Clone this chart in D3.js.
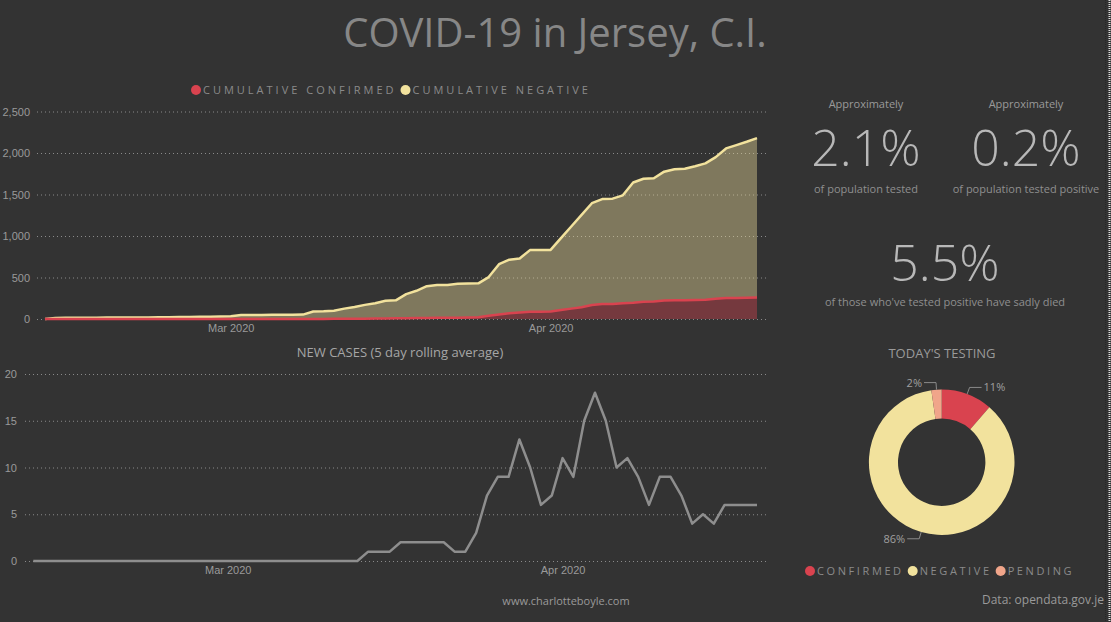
<!DOCTYPE html>
<html>
<head>
<meta charset="utf-8">
<script src="https://cdn.jsdelivr.net/npm/d3@7/dist/d3.min.js"></script>
<style>
  html, body { margin: 0; padding: 0; background: #333333; }
  svg { display: block; font-family: "Segoe UI", "Open Sans", sans-serif; }
  .grid line { stroke: #8a8a8a; stroke-dasharray: 1 3; stroke-width: 1; }
  .grid .domain { display: none; }
  .grid text { fill: #9a9a9a; font-size: 11px; }
  .xaxis .domain, .xaxis line { display: none; }
  .xaxis text { fill: #9a9a9a; font-size: 11px; }
</style>
</head>
<body>
<div id="chart"></div>
<script>
// ---- data ----
var startDate = new Date(2020, 1, 12);
var cumEnd = new Date(2020, 3, 21);
var rollEnd = new Date(2020, 3, 19);

var cumDates = d3.timeDay.range(startDate, d3.timeDay.offset(cumEnd, 1));
var rollDates = d3.timeDay.range(startDate, d3.timeDay.offset(rollEnd, 1));

var cumulativeConfirmed = [0,0,0,0,0,0,0,0,0,0, 0,0,0,0,0,0,0,0,0,0,
  0,0,0,0,0,0,0,1,2,2, 3,4,5,6,8,10,11,13,15,15,
  15,17,20,40,55,68,78,88,88,90, 108,125,141,168,180,182,189,197,208,210,
  222,225,226,229,233,244,252,254,256,258];

var cumulativeNegative = [0,12,15,15,16,16,17,17,18,18, 19,20,22,24,25,26,28,30,33,48,
  48,49,50,50,52,53,90,91,98,123, 142,166,185,214,217,290,329,382,395,395,
  410,410,410,465,605,647,652,742,742,742, 867,990,1114,1227,1265,1268,1301,1448,1482,1485,
  1553,1580,1584,1611,1642,1706,1803,1841,1879,1922];

var newCasesAvg = [0,0,0,0,0,0,0,0,0,0, 0,0,0,0,0,0,0,0,0,0,
  0,0,0,0,0,0,0,0,0,0, 0,1,1,1,2,2,2,2,2,1,
  1,3,7,9,9,13,10,6,7,11, 9,15,18,15,10,11,9,6,9,9,
  7,4,5,4,6,6,6,6];

var cumTicks = [0, 500, 1000, 1500, 2000, 2500];
var newTicks = [0, 5, 10, 15, 20];
var monthTicks = [new Date(2020, 2, 1), new Date(2020, 3, 1)];

var testingLabels = ["CONFIRMED", "NEGATIVE", "PENDING"];
var testingToday = [5, 38, 1];

var statLabels = ["Approximately", "Approximately"];
var statValues = ["2.1%", "0.2%"];
var statNotes = ["of population tested", "of population tested positive"];

// ---- colours ----
var RED = "#d9434f", YELLOW = "#f2e29d", SALMON = "#f0a58a", GREY_LINE = "#8e8e8e";

var W = 1111, H = 622;
var svg = d3.select("#chart").append("svg").attr("width", W).attr("height", H);
svg.append("rect").attr("width", W).attr("height", H).attr("fill", "#333333");

// right edge border
svg.append("line").attr("x1", 1105.5).attr("x2", 1105.5).attr("y1", 0).attr("y2", H)
  .attr("stroke", "#262626").attr("stroke-width", 1).attr("stroke-dasharray", "1 1");
svg.append("line").attr("x1", 1109.5).attr("x2", 1109.5).attr("y1", 0).attr("y2", H)
  .attr("stroke", "#dddddd").attr("stroke-width", 2).attr("stroke-dasharray", "1 1");

// title
svg.append("text").attr("x", 555).attr("y", 47).attr("text-anchor", "middle")
  .attr("fill", "#878787").attr("font-size", 40).attr("font-weight", 400)
  .text("COVID-19 in Jersey, C.I.");

// legend helper
function legend(g, x, y, items, colors, size, spacing) {
  var cx = x;
  items.forEach(function (label, i) {
    g.append("circle").attr("cx", cx).attr("cy", y).attr("r", 5).attr("fill", colors[i]);
    var t = g.append("text").attr("x", cx + 7).attr("y", y + 4)
      .attr("fill", "#8a8a8a").attr("font-size", size).attr("letter-spacing", spacing + "px")
      .text(label);
    cx = cx + 7 + t.node().getComputedTextLength() + 9;
  });
}

// ---- cumulative stacked area ----
var x1 = d3.scaleTime().domain([startDate, cumEnd]).range([45, 757]);
var y1 = d3.scaleLinear().domain([0, 2500]).range([319, 111.5]);

var gTop = svg.append("g");
gTop.append("g").attr("class", "grid").attr("transform", "translate(37,0)")
  .call(d3.axisLeft(y1).tickValues(cumTicks).tickFormat(d3.format(",")).tickSize(-731).tickPadding(7));

var rows = cumDates.map(function (d, i) {
  return { date: d, confirmed: cumulativeConfirmed[i], negative: cumulativeNegative[i] };
});
var stack = d3.stack().keys(["confirmed", "negative"])(rows);
var area = d3.area().x(function (d) { return x1(d.data.date); })
  .y0(function (d) { return y1(d[0]); }).y1(function (d) { return y1(d[1]); });
var topLine = d3.line().x(function (d) { return x1(d.data.date); }).y(function (d) { return y1(d[1]); });
var fills = [RED, YELLOW];

stack.forEach(function (s, i) {
  gTop.append("path").datum(s).attr("d", area).attr("fill", fills[i]).attr("fill-opacity", 0.4);
});
stack.slice().reverse().forEach(function (s, j) {
  var i = stack.length - 1 - j;
  gTop.append("path").datum(s).attr("d", topLine).attr("fill", "none")
    .attr("stroke", fills[i]).attr("stroke-width", 2.5).attr("stroke-linejoin", "round");
});

gTop.append("g").attr("class", "xaxis").attr("transform", "translate(0,320)")
  .call(d3.axisBottom(x1).tickValues(monthTicks).tickFormat(d3.timeFormat("%b %Y")).tickSize(0).tickPadding(4));

legend(svg.append("g"), 196, 90, ["CUMULATIVE CONFIRMED", "CUMULATIVE NEGATIVE"], [RED, YELLOW], 11, 3);

// ---- new cases rolling avg ----
var x2 = d3.scaleTime().domain([startDate, rollEnd]).range([33.3, 757]);
var y2 = d3.scaleLinear().domain([0, 20]).range([561, 374]);

var gBot = svg.append("g");
gBot.append("text").attr("x", 400).attr("y", 357).attr("text-anchor", "middle")
  .attr("fill", "#a6a6a6").attr("font-size", 13).text("NEW CASES (5 day rolling average)");
gBot.append("g").attr("class", "grid").attr("transform", "translate(25,0)")
  .call(d3.axisLeft(y2).tickValues(newTicks).tickSize(-743).tickPadding(8));
gBot.append("path").datum(newCasesAvg)
  .attr("d", d3.line().x(function (d, i) { return x2(rollDates[i]); }).y(function (d) { return y2(d); }))
  .attr("fill", "none").attr("stroke", GREY_LINE).attr("stroke-width", 2.5).attr("stroke-linejoin", "round");
gBot.append("g").attr("class", "xaxis").attr("transform", "translate(0,562)")
  .call(d3.axisBottom(x2).tickValues(monthTicks).tickFormat(d3.timeFormat("%b %Y")).tickSize(0).tickPadding(4));

svg.append("text").attr("x", 566).attr("y", 605).attr("text-anchor", "middle")
  .attr("fill", "#9a9a9a").attr("font-size", 11).text("www.charlotteboyle.com");

// ---- stats panel ----
var statX = [866, 1026];
statValues.forEach(function (v, i) {
  svg.append("text").attr("x", statX[i]).attr("y", 108).attr("text-anchor", "middle")
    .attr("fill", "#9a9a9a").attr("font-size", 11).text(statLabels[i]);
  svg.append("text").attr("x", statX[i]).attr("y", 166).attr("text-anchor", "middle")
    .attr("fill", "#b8b8b8").attr("font-size", 50).attr("font-weight", 300).text(v);
  svg.append("text").attr("x", statX[i]).attr("y", 193).attr("text-anchor", "middle")
    .attr("fill", "#8f8f8f").attr("font-size", 11).text(statNotes[i]);
});
svg.append("text").attr("x", 945).attr("y", 281).attr("text-anchor", "middle")
  .attr("fill", "#b8b8b8").attr("font-size", 50).attr("font-weight", 300).text("5.5%");
svg.append("text").attr("x", 945).attr("y", 306).attr("text-anchor", "middle")
  .attr("fill", "#8f8f8f").attr("font-size", 11).text("of those who've tested positive have sadly died");

// ---- today's testing donut ----
svg.append("text").attr("x", 942).attr("y", 358).attr("text-anchor", "middle")
  .attr("fill", "#9a9a9a").attr("font-size", 13).text("TODAY'S TESTING");

var cx = 941.7, cy = 462.2, rOut = 72.8, rIn = 43.7;
var pie = d3.pie().sort(null)(testingToday);
var total = d3.sum(testingToday);
var arc = d3.arc().innerRadius(rIn).outerRadius(rOut);
var sliceColors = [RED, YELLOW, SALMON];
var gD = svg.append("g").attr("transform", "translate(" + cx + "," + cy + ")");
gD.selectAll("path.slice").data(pie).enter().append("path").attr("class", "slice")
  .attr("d", arc).attr("fill", function (d, i) { return sliceColors[i]; });

pie.forEach(function (d) {
  var a = (d.startAngle + d.endAngle) / 2;
  var p0 = [rOut * Math.sin(a), -rOut * Math.cos(a)];
  var p1 = [(rOut + 7) * Math.sin(a), -(rOut + 7) * Math.cos(a)];
  var right = Math.sin(a) > 0.05;
  var p2 = [p1[0] + (right ? 12 : -12), p1[1]];
  gD.append("polyline").attr("points", [p0, p1, p2].map(function (p) { return p.join(","); }).join(" "))
    .attr("fill", "none").attr("stroke", "#8a8a8a").attr("stroke-width", 1);
  gD.append("text").attr("x", p2[0] + (right ? 2 : -2)).attr("y", p2[1] + 4)
    .attr("text-anchor", right ? "start" : "end").attr("fill", "#a0a0a0").attr("font-size", 11)
    .text(d3.format(".0%")(d.value / total));
});

legend(svg.append("g"), 810, 571, testingLabels, sliceColors, 11, 2.6);

svg.append("text").attr("x", 1104).attr("y", 604).attr("text-anchor", "end")
  .attr("fill", "#9a9a9a").attr("font-size", 12).text("Data: opendata.gov.je");
</script>
</body>
</html>
